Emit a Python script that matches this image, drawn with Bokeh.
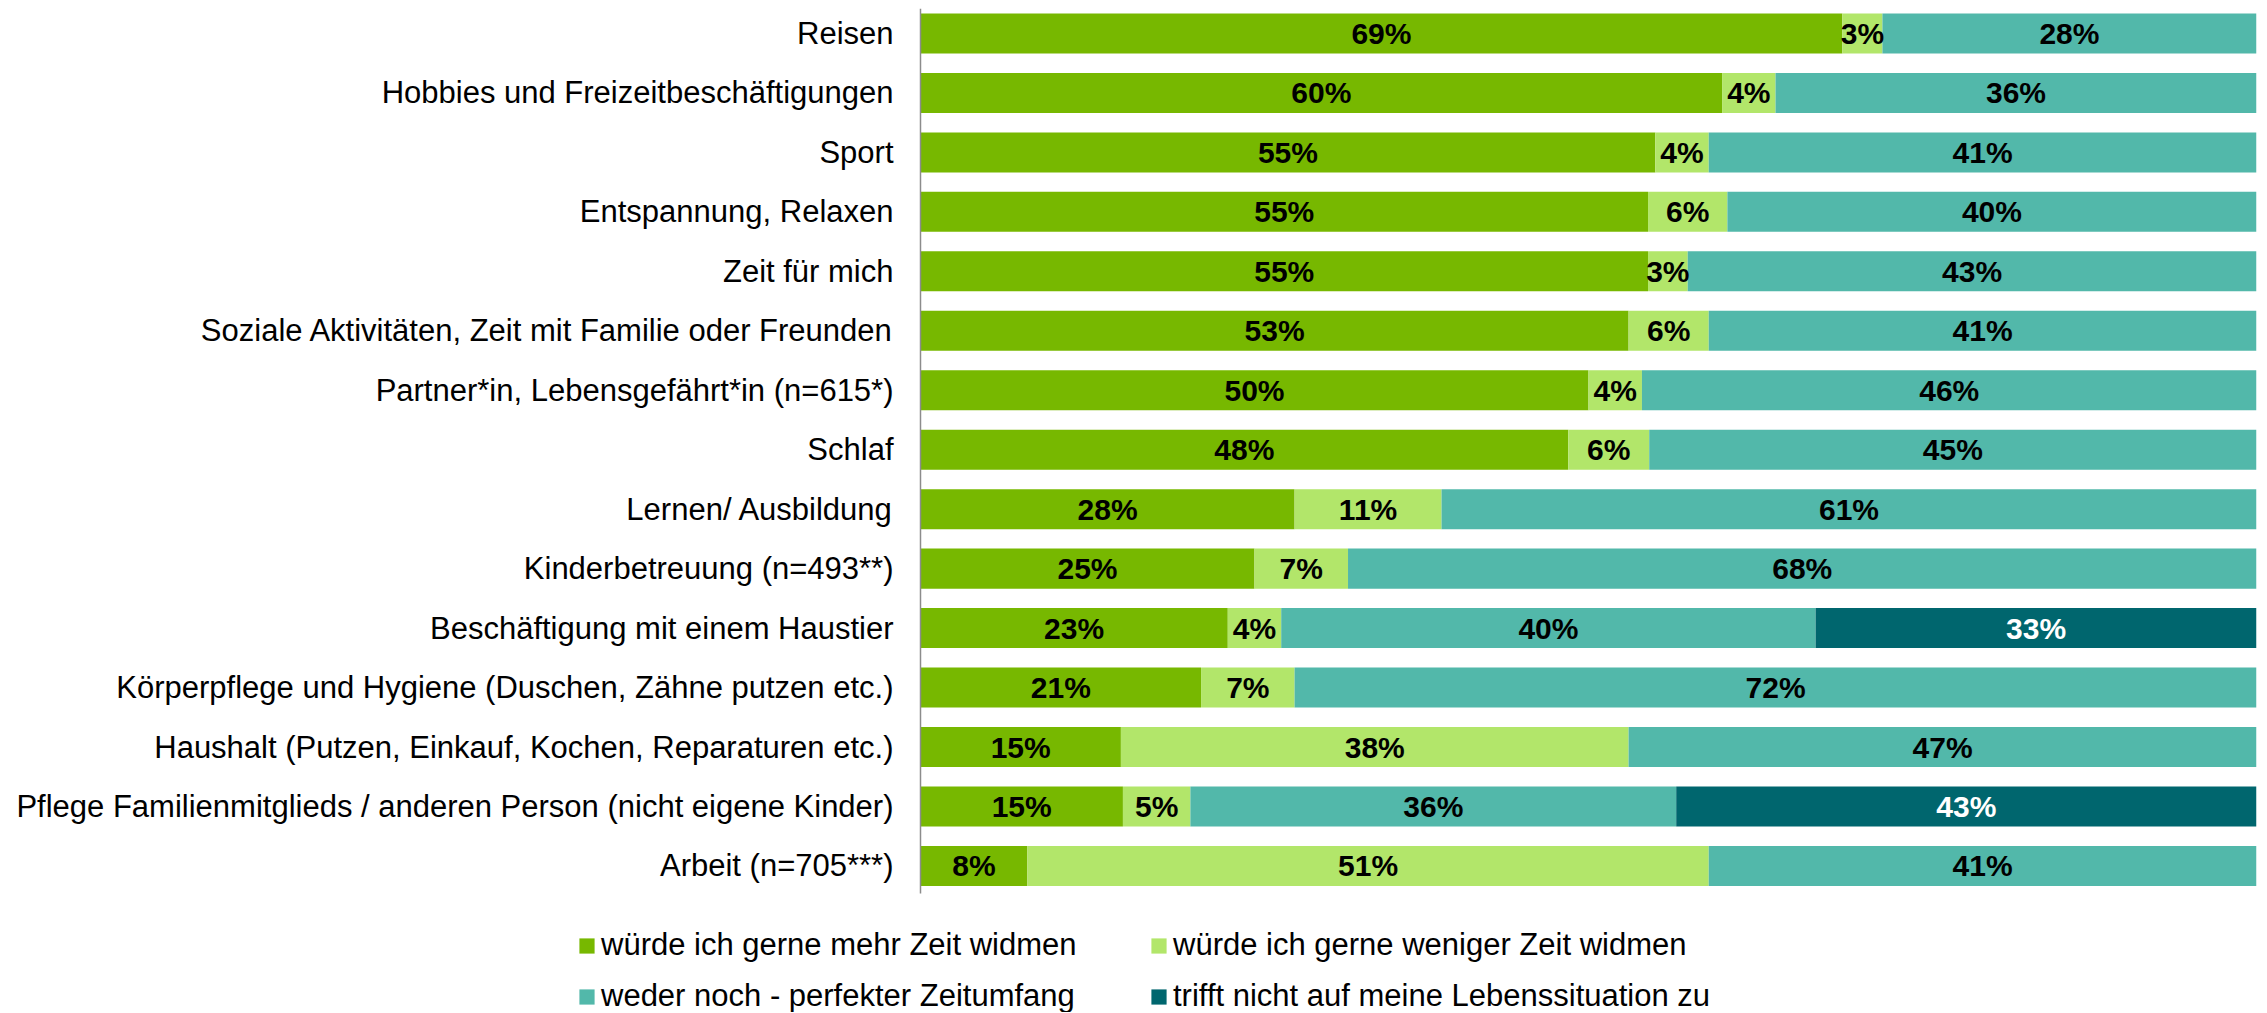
from bokeh.plotting import figure
from bokeh.models import ColumnDataSource, Range1d, Legend, LegendItem
from bokeh.core.properties import value
from bokeh.embed import file_html
from bokeh.resources import INLINE

categories = [
    "Reisen",
    "Hobbies und Freizeitbeschäftigungen",
    "Sport",
    "Entspannung, Relaxen",
    "Zeit für mich",
    "Soziale Aktivitäten, Zeit mit Familie oder Freunden",
    "Partner*in, Lebensgefährt*in (n=615*)",
    "Schlaf",
    "Lernen/ Ausbildung",
    "Kinderbetreuung (n=493**)",
    "Beschäftigung mit einem Haustier",
    "Körperpflege und Hygiene (Duschen, Zähne putzen etc.)",
    "Haushalt (Putzen, Einkauf, Kochen, Reparaturen etc.)",
    "Pflege Familienmitglieds / anderen Person (nicht eigene Kinder)",
    "Arbeit (n=705***)",
]
more_time = [69, 60, 55, 55, 55, 53, 50, 48, 28, 25, 23, 21, 15, 15, 8]
less_time = [3, 4, 4, 6, 3, 6, 4, 6, 11, 7, 4, 7, 38, 5, 51]
perfect_time = [28, 36, 41, 40, 43, 41, 46, 45, 61, 68, 40, 72, 47, 36, 41]
not_applicable = [0, 0, 0, 0, 0, 0, 0, 0, 0, 0, 33, 0, 0, 43, 0]

series_names = [
    "würde ich gerne mehr Zeit widmen",
    "würde ich gerne weniger Zeit widmen",
    "weder noch - perfekter Zeitumfang",
    "trifft nicht auf meine Lebenssituation zu",
]
series_values = [more_time, less_time, perfect_time, not_applicable]
series_colors = ["#77B800", "#B2E66A", "#52B8AA", "#00666E"]
label_colors = ["black", "black", "black", "white"]

n = len(categories)
ys = list(range(n))
totals = [sum(s[i] for s in series_values) for i in range(n)]

# category band extent (top edge / bottom edge of the category area)
y_top = -0.42
y_bottom = n - 1 + 0.4625

p = figure(
    width=2260, height=1012,
    x_range=Range1d(-68.862, 100),
    y_range=Range1d(16.465, y_top),
    x_axis_location=None, y_axis_location=None,
    output_backend="svg", toolbar_location=None,
    min_border_left=0, min_border_right=4, min_border_top=8, min_border_bottom=0,
)
p.outline_line_color = None
p.xgrid.visible = False
p.ygrid.visible = False

cum = [0.0] * n
renderers = []
lab_x, lab_y, lab_t, lab_c = [], [], [], []
for vals, color, lc in zip(series_values, series_colors, label_colors):
    left = [cum[i] for i in range(n)]
    right = [cum[i] + vals[i] * 100.0 / totals[i] for i in range(n)]
    src = ColumnDataSource(dict(y=ys, left=left, right=right))
    r = p.hbar(y="y", left="left", right="right", height=0.673, source=src,
               fill_color=color, line_color=None)
    renderers.append(r)
    for i in range(n):
        if vals[i] > 0:
            lab_x.append((left[i] + right[i]) / 2)
            lab_y.append(ys[i])
            lab_t.append(f"{vals[i]}%")
            lab_c.append(lc)
    cum = right

lsrc = ColumnDataSource(dict(x=lab_x, y=lab_y, t=lab_t, c=lab_c))
p.text(x="x", y="y", text="t", source=lsrc, text_color="c",
       text_align="center", text_baseline="middle",
       text_font=value("Liberation Sans"), text_font_style="bold",
       text_font_size="30px")

# category axis: line at 0 % and the category labels
p.segment(x0=[0], y0=[y_top], x1=[0], y1=[y_bottom], line_color="#8C8C8C", line_width=1.5)
csrc = ColumnDataSource(dict(x=[0] * n, y=ys, t=categories))
p.text(x="x", y="y", text="t", source=csrc, x_offset=-27,
       text_align="right", text_baseline="middle", text_color="black",
       text_font=value("Liberation Sans"), text_font_size="31px")

legend = Legend(
    items=[LegendItem(label=nm, renderers=[r], index=0) for nm, r in zip(series_names, renderers)],
    location=(577, -2),
    orientation="horizontal", ncols=2,
    glyph_width=19, glyph_height=19, label_standoff=5,
    label_width=533, label_height=34, spacing=15,
    padding=0, margin=0,
    border_line_color=None, background_fill_alpha=0,
    label_text_font="Liberation Sans", label_text_font_size="31px",
    label_text_color="black",
)
p.add_layout(legend, "center")

open("out.html", "w").write(file_html(p, INLINE))
